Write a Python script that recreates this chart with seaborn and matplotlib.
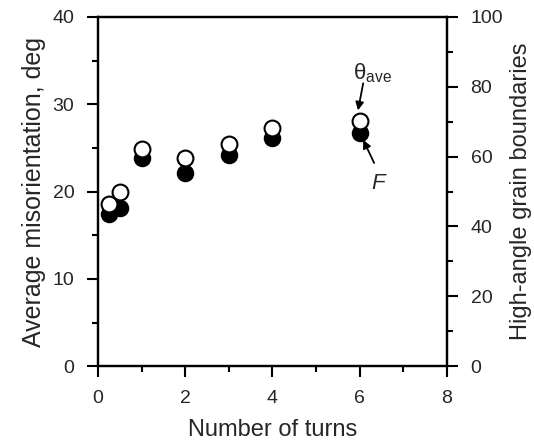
import pandas as pd
import matplotlib.pyplot as plt
import seaborn as sns
from matplotlib.ticker import MultipleLocator

sns.set_style('ticks')
plt.rcParams['font.family'] = ['Liberation Sans', 'DejaVu Sans']
plt.rcParams['mathtext.fontset'] = 'custom'
plt.rcParams['mathtext.rm'] = 'Liberation Sans'
plt.rcParams['mathtext.it'] = 'Liberation Sans:italic'

turns = [0.25, 0.5, 1, 2, 3, 4, 6]
theta_ave = [18.6, 20.0, 24.9, 23.8, 25.4, 27.3, 28.1]
hagb = [43.6, 45.2, 59.7, 55.2, 60.5, 65.2, 66.7]

df = pd.DataFrame({'turns': turns, 'theta': theta_ave, 'hagb': hagb})

fig = plt.figure(figsize=(5.34, 4.46), dpi=100)
ax = fig.add_axes([0.1835, 0.179, 0.6535, 0.783])
ax2 = ax.twinx()

sns.scatterplot(data=df, x='turns', y='hagb', ax=ax2, s=130, color='black',
                edgecolor='black', linewidth=1.2, zorder=2)
sns.scatterplot(data=df, x='turns', y='theta', ax=ax, s=130, color='white',
                edgecolor='black', linewidth=1.5, zorder=3)

# open circles on top of the filled ones
ax.set_zorder(ax2.get_zorder() + 1)
ax.patch.set_visible(False)

ax.set_xlim(0, 8)
ax.set_ylim(0, 40)
ax2.set_ylim(0, 100)
ax.xaxis.set_major_locator(MultipleLocator(2))
ax.xaxis.set_minor_locator(MultipleLocator(1))
ax.yaxis.set_major_locator(MultipleLocator(10))
ax.yaxis.set_minor_locator(MultipleLocator(5))
ax2.yaxis.set_major_locator(MultipleLocator(20))
ax2.yaxis.set_minor_locator(MultipleLocator(10))

for a in (ax, ax2):
    for sp in a.spines.values():
        sp.set_linewidth(1.6)
        sp.set_color('black')
    a.tick_params(which='major', length=8, width=1.5, labelsize=14, color='black', pad=9)
    a.tick_params(which='minor', length=4.5, width=1.5, color='black')

ax.set_xlabel('Number of turns', fontsize=17, labelpad=9)
ax.set_ylabel('Average misorientation, deg', fontsize=18, labelpad=5)
ax2.set_ylabel('High-angle grain boundaries', fontsize=17, labelpad=5)

ax.text(5.85, 32.8, r'θ$_{\rm ave}$', fontsize=16, ha='left', va='baseline')
ax.annotate('', xy=(5.96, 29.3), xytext=(6.08, 32.4),
            arrowprops=dict(arrowstyle='-|>', color='black', lw=1.3,
                            mutation_scale=12, shrinkA=0, shrinkB=0))
ax2.text(6.42, 55.2, 'F', fontsize=16, style='italic', ha='center', va='top')
ax2.annotate('', xy=(6.08, 64.8), xytext=(6.33, 58.2),
             arrowprops=dict(arrowstyle='-|>', color='black', lw=1.3,
                             mutation_scale=12, shrinkA=0, shrinkB=0))

fig.savefig('out.png', dpi=100)
